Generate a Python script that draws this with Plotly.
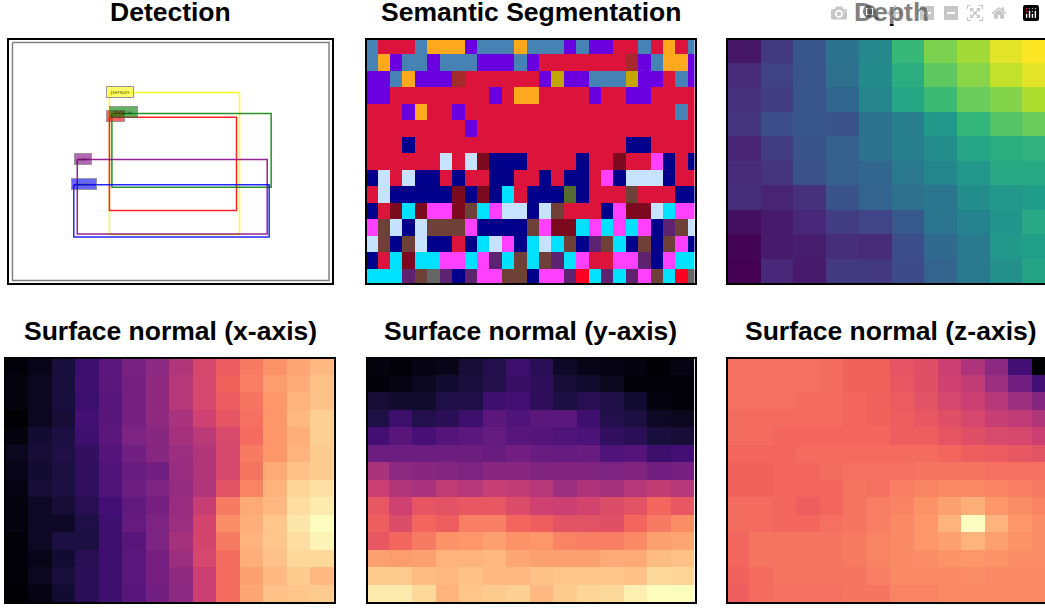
import plotly.graph_objects as go

W, H = 1045, 609

titles = ["Detection", "Semantic Segmentation", "Depth",
          "Surface normal (x-axis)", "Surface normal (y-axis)", "Surface normal (z-axis)"]

# Detection panel, in image coordinates (640 x 480)
det_labels = ["person", "dog", "bicycle", "car", "bench"]
det_colors = ["#ffff00", "#ff0000", "#008000", "#800080", "#0000ff"]
det_x0 = [196, 196, 201, 131, 124]
det_x1 = [459, 453, 523, 515, 519]
det_y0 = [101, 151, 143, 236, 287]
det_y1 = [387, 339, 292, 386, 392]
label_width = [26, 17, 27, 16, 24]

# Segmentation classes
seg_names = "RSOVBYNLMCPWGUDF"
seg_colors = ["#dc143c", "#4682b4", "#fda81d", "#6a00e0", "#a52a2a", "#c4a600", "#00008b", "#c6e2ff",
              "#7b0a1f", "#00e1ff", "#ff40ff", "#6f4037", "#556b2f", "#5e2370", "#666666", "#ff0022"]
seg_rows = [
    "SRRRSOOOVSSSOSSSVSVVRRSRORS",
    "SOVSSVSSSVVVSVRRRRRRRBVSOOV",
    "VVSOVVVBRRRRRRVYVVSSSYVVRSV",
    "VVRRRRRRRRVROOROROOOOOOOOOO".replace("OROOOOOOOOOO", "RRRVRRVVRRRRRR")[:27],
    "RRRVORRVRRRRRRRRRRRRRRRRRSR",
    "RRRRRRRRVRRRRRRRRRRRRRRRRRR",
    "RRRNRRRRRRRRRRRRRRRRRNNRRRR",
    "RRRRRRLRLMNNNRRRRNRRMRRPNRN",
    "NLRLNNRNRRNNRRNRNNRPNLLLNRR",
    "RLNNNNNMNMNCRNNNGNRRRWRRRNN",
    "NRMCMPPMWCPLLNLWRRRNPMMLCPP",
    "PWLNLWWWPNNNNWPMMCPCPCPNUWL",
    "LWNWLNNRNCLPNCLCWNUWCNWNWPN",
    "NRCMCCPPCPUCWCWUCPRRPPUNPCC",
    "CCCUWDUNUPPWWNPPUFCUCUPWCFD",
]
seg_z = [[seg_names.index(ch) for ch in row] for row in seg_rows]

depth = [
    [.06, .17, .27, .38, .47, .67, .80, .86, .96, 1.0],
    [.12, .20, .27, .37, .48, .62, .75, .82, .91, .96],
    [.14, .18, .27, .33, .46, .59, .68, .77, .81, .88],
    [.15, .24, .27, .26, .38, .43, .53, .66, .73, .77],
    [.10, .18, .26, .30, .38, .43, .49, .59, .62, .64],
    [.12, .15, .25, .30, .33, .40, .46, .53, .60, .60],
    [.13, .10, .14, .26, .32, .37, .39, .49, .53, .55],
    [.04, .07, .11, .18, .21, .28, .39, .44, .52, .60],
    [.01, .07, .08, .13, .12, .24, .34, .41, .53, .56],
    [.00, .11, .07, .17, .17, .23, .32, .41, .50, .58],
]

normal_x = [
    [.01, .04, .11, .20, .28, .35, .40, .49, .58, .65, .72, .77, .81, .85],
    [.02, .05, .11, .21, .28, .34, .41, .50, .58, .67, .73, .79, .82, .87],
    [.02, .05, .11, .20, .27, .34, .41, .50, .58, .65, .71, .78, .84, .87],
    [.00, .05, .10, .22, .27, .34, .41, .47, .56, .63, .70, .78, .85, .90],
    [.02, .09, .12, .21, .28, .36, .39, .46, .51, .59, .69, .78, .83, .90],
    [.05, .10, .13, .18, .26, .33, .39, .44, .49, .58, .72, .78, .84, .89],
    [.04, .09, .12, .18, .25, .31, .33, .43, .49, .58, .71, .82, .87, .89],
    [.03, .10, .12, .18, .25, .32, .36, .42, .49, .62, .74, .84, .91, .94],
    [.02, .06, .10, .15, .22, .29, .34, .43, .54, .72, .82, .85, .93, .96],
    [.02, .06, .07, .13, .21, .30, .36, .44, .57, .76, .83, .88, .95, 1.0],
    [.01, .06, .12, .12, .21, .27, .36, .46, .57, .72, .84, .88, .93, .98],
    [.01, .04, .09, .15, .21, .28, .34, .44, .58, .69, .83, .87, .92, .92],
    [.01, .05, .11, .16, .21, .28, .34, .41, .55, .69, .80, .85, .89, .85],
    [.00, .03, .09, .16, .21, .27, .33, .40, .55, .69, .81, .87, .88, .89],
]

normal_y = [
    [.02, .01, .03, .04, .10, .14, .20, .16, .07, .04, .03, .02, .00, .03],
    [.01, .03, .05, .09, .11, .14, .19, .17, .10, .08, .05, .01, .01, .01],
    [.10, .08, .08, .13, .13, .21, .22, .17, .12, .15, .13, .09, .02, .01],
    [.13, .20, .14, .16, .20, .28, .25, .28, .28, .21, .14, .12, .06, .05],
    [.22, .27, .23, .26, .28, .30, .27, .26, .25, .24, .18, .16, .11, .10],
    [.32, .32, .32, .32, .32, .31, .33, .31, .30, .31, .25, .26, .20, .22],
    [.47, .40, .39, .38, .36, .39, .39, .37, .37, .37, .36, .37, .33, .34],
    [.55, .49, .47, .52, .50, .54, .53, .50, .44, .48, .46, .50, .53, .50],
    [.64, .56, .63, .62, .64, .64, .60, .56, .55, .57, .60, .62, .68, .64],
    [.66, .60, .68, .66, .73, .73, .68, .66, .62, .62, .61, .68, .72, .76],
    [.64, .68, .72, .77, .78, .80, .77, .78, .74, .73, .73, .75, .80, .81],
    [.80, .79, .80, .84, .84, .85, .81, .80, .80, .80, .82, .82, .86, .87],
    [.89, .89, .86, .85, .87, .85, .85, .87, .88, .88, .88, .87, .92, .91],
    [.96, .96, .92, .84, .88, .89, .90, .85, .89, .91, .92, .97, 1.0, 1.0],
]

normal_z = [
    [.70, .70, .70, .70, .69, .67, .67, .63, .61, .55, .48, .40, .22, .00],
    [.70, .70, .70, .70, .69, .67, .67, .64, .61, .56, .53, .44, .33, .22],
    [.70, .70, .70, .69, .69, .68, .67, .65, .62, .58, .55, .50, .44, .38],
    [.69, .69, .69, .69, .69, .68, .67, .66, .64, .61, .58, .54, .52, .49],
    [.69, .69, .68, .68, .68, .68, .68, .66, .66, .63, .61, .59, .58, .55],
    [.68, .68, .68, .69, .69, .69, .69, .69, .69, .68, .66, .65, .64, .62],
    [.67, .67, .68, .68, .69, .70, .70, .70, .71, .71, .71, .70, .70, .70],
    [.67, .67, .68, .68, .68, .71, .70, .73, .74, .75, .75, .74, .73, .72],
    [.69, .69, .68, .66, .68, .71, .73, .74, .77, .80, .83, .78, .76, .74],
    [.69, .69, .68, .68, .70, .71, .73, .75, .78, .84, 1.0, .84, .78, .76],
    [.68, .71, .71, .71, .71, .72, .74, .75, .78, .80, .84, .80, .77, .76],
    [.68, .71, .71, .71, .71, .72, .74, .75, .76, .77, .78, .77, .76, .76],
    [.67, .69, .71, .71, .71, .71, .73, .75, .75, .75, .76, .75, .75, .75],
    [.66, .69, .70, .70, .70, .71, .71, .74, .74, .75, .75, .75, .75, .75],
]

# Axes boxes in page pixels: left, right, top, bottom
boxes = [
    (9, 332, 40, 283), (367, 694.5, 40, 283), (728, 1045, 40, 283),
    (6, 334, 359, 602), (368, 694.5, 359, 602), (728, 1045, 359, 602),
]
# Visible data windows (x from, x to, y bottom, y top)
windows = [
    (-7, 640 + 6, 480 + 5, -5),
    (-0.36, 26.05, 14.4, -0.38),
    (-0.5, 9.2, 9.5, -0.42),
    (-0.45, 13.5, 13.5, -0.4),
    (-0.38, 13.5, 13.5, -0.4),
    (-0.39, 13.06, 13.5, -0.4),
]
title_x = [170.5, 531, 891, 170, 530.5, 890.5]
title_y = [12, 12, 12, 331, 331, 331]

fig = go.Figure()
names = [("x" if i == 0 else f"x{i+1}", "y" if i == 0 else f"y{i+1}") for i in range(6)]

# Detection: image border and boxes
fig.add_trace(go.Scatter(x=[0, 640, 640, 0, 0], y=[0, 0, 480, 480, 0], mode="lines",
                         line=dict(color="#808080", width=1.5), hoverinfo="skip",
                         xaxis="x", yaxis="y"))
for lab, col, x0, x1, y0, y1 in zip(det_labels, det_colors, det_x0, det_x1, det_y0, det_y1):
    fig.add_trace(go.Scatter(x=[x0, x1, x1, x0, x0], y=[y0, y0, y1, y1, y0], mode="lines", name=lab,
                             line=dict(color=col, width=1.5), opacity=0.85, hoverinfo="skip",
                             xaxis="x", yaxis="y"))

fig.add_trace(go.Heatmap(z=seg_z, zmin=0, zmax=len(seg_colors) - 1,
                         colorscale=[[i / (len(seg_colors) - 1), c] for i, c in enumerate(seg_colors)],
                         showscale=False, hoverinfo="skip", xaxis="x2", yaxis="y2"))
fig.add_trace(go.Heatmap(z=depth, zmin=0, zmax=1, colorscale="Viridis", showscale=False,
                         hoverinfo="skip", xaxis="x3", yaxis="y3"))
for k, grid in zip((4, 5, 6), (normal_x, normal_y, normal_z)):
    fig.add_trace(go.Heatmap(z=grid, zmin=0, zmax=1, colorscale="Magma", showscale=False,
                             hoverinfo="skip", xaxis=f"x{k}", yaxis=f"y{k}"))

layout = dict(width=W, height=H, autosize=False, margin=dict(l=0, r=0, t=0, b=0),
              paper_bgcolor="white", plot_bgcolor="white", showlegend=False)
for i, (box, win) in enumerate(zip(boxes, windows)):
    l, r, t, b = box
    xa = "xaxis" if i == 0 else f"xaxis{i+1}"
    ya = "yaxis" if i == 0 else f"yaxis{i+1}"
    clipped = i in (2, 5)
    layout[xa] = dict(domain=[l / W, r / W], range=[win[0], win[1]], showgrid=False, zeroline=False,
                      showticklabels=False, ticks="", showline=True, mirror=True, linecolor="black",
                      linewidth=2, anchor=names[i][1])
    layout[ya] = dict(domain=[1 - b / H, 1 - t / H], range=[win[2], win[3]], showgrid=False, zeroline=False,
                      showticklabels=False, ticks="", showline=True, mirror=not clipped, linecolor="black",
                      linewidth=2, anchor=names[i][0])
fig.update_layout(**layout)

for txt, x, y in zip(titles, title_x, title_y):
    fig.add_annotation(text=f"<b>{txt}</b>", x=x / W, y=1 - y / H, xref="paper", yref="paper",
                       xanchor="center", yanchor="middle", showarrow=False,
                       font=dict(family="Liberation Sans", size=26.5, color="black"))

for lab, col, x0, y0, w in zip(det_labels, det_colors, det_x0, det_y0, label_width):
    fig.add_annotation(text=lab, x=x0, y=y0, xref="x", yref="y", xanchor="left", yanchor="bottom",
                       xshift=-3, yshift=-5, showarrow=False, width=w, height=10,
                       bgcolor=col, opacity=0.6, bordercolor="#555555", borderwidth=1, borderpad=0,
                       font=dict(family="Liberation Sans", size=6, color="black"))

fig.write_html("out.html", post_script="document.body.style.margin='0';document.body.style.overflow='hidden';")
